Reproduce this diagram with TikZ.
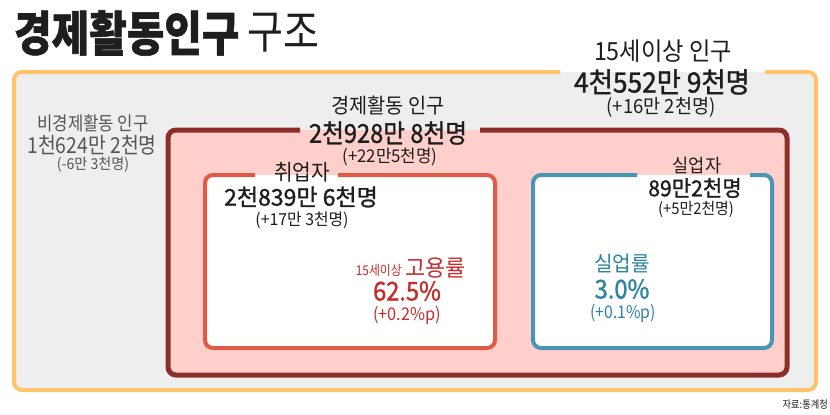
\documentclass[tikz,border=0pt]{standalone}
\usepackage{fontspec}
\setmainfont{Noto Sans CJK KR}
\newfontfamily\krmed{Noto Sans CJK KR}[FakeBold=1.2]
\usepackage{graphicx}
\definecolor{orangeL}{HTML}{FFC46B}
\definecolor{bgGray}{HTML}{EEEEEE}
\definecolor{darkRed}{HTML}{8C2F2A}
\definecolor{pinkF}{HTML}{FFCFCB}
\definecolor{redB}{HTML}{E05A48}
\definecolor{blueB}{HTML}{4A94B4}
\definecolor{redT}{HTML}{C62C2A}
\definecolor{blueT}{HTML}{2A84A0}
\definecolor{grayT}{HTML}{555555}
\definecolor{blackT}{HTML}{1E1E1E}
\newcommand{\cnd}[2][0.88]{\scalebox{#1}[1]{#2}}
\newcommand{\fs}[1]{\fontsize{#1}{#1}\selectfont}
\tikzset{
  txt/.style={inner sep=0pt, anchor=center, text=blackT},
  frame/.style={line width=#1, rounded corners=8pt},
}
\begin{document}
\begin{tikzpicture}[x=1pt,y=-1pt]
\useasboundingbox (0,0) rectangle (830,415);
\fill[white] (0,0) rectangle (830,415);
% outer: 15세이상 인구
\fill[bgGray, rounded corners=8pt] (14,72) rectangle (816,390);
\draw[orangeL, frame=4pt] (765,72) -- (816,72) -- (816,390) -- (14,390) -- (14,72) -- (560,72);
% 경제활동인구
\fill[pinkF, rounded corners=8pt] (168,130) rectangle (787,375);
\draw[darkRed, frame=5pt] (480,130) -- (787,130) -- (787,375) -- (168,375) -- (168,130) -- (300,130);
% 취업자
\fill[white, rounded corners=8pt] (205,175) rectangle (495,348);
\draw[redB, frame=4pt] (338,175) -- (495,175) -- (495,348) -- (205,348) -- (205,175) -- (255,175);
% 실업자
\fill[white, rounded corners=8pt] (533,175) rectangle (772,348);
\draw[blueB, frame=4pt] (750,175) -- (772,175) -- (772,348) -- (533,348) -- (533,175) -- (637,175);

% title
\node[txt, anchor=west] (title) at (14,33) {\fs{48}\krmed\bfseries\cnd[0.85]{경제활동인구}};
\node[txt, anchor=west] (title2) at (247,33) {\fs{46}\cnd[0.85]{구조}};

% 15세이상 인구
\node[txt] (popA) at (663,51) {\fs{25}\cnd[0.93]{15세이상 인구}};
\node[txt] (popB) at (662,82) {\fs{28}\krmed\cnd[0.94]{4천552만 9천명}};
\node[txt] (popC) at (661,107) {\fs{19.5}\cnd[0.95]{(+16만 2천명)}};

% 비경제활동 인구
\node[txt, text=grayT] (nonA) at (93,123) {\fs{19}\cnd{비경제활동 인구}};
\node[txt, text=grayT] (nonB) at (92,145) {\fs{22}\cnd{1천624만 2천명}};
\node[txt, text=grayT] (nonC) at (93,165) {\fs{15}\cnd[0.94]{(-6만 3천명)}};

% 경제활동 인구
\node[txt] (ecoA) at (388,106) {\fs{21}\cnd[0.94]{경제활동 인구}};
\node[txt] (ecoB) at (388,133) {\fs{26}\krmed\cnd[0.91]{2천928만 8천명}};
\node[txt] (ecoC) at (390,157) {\fs{17.5}\cnd[0.96]{(+22만5천명)}};

% 취업자
\node[txt] (empA) at (302,172) {\fs{22}\cnd[0.92]{취업자}};
\node[txt] (empB) at (301,197) {\fs{23}\krmed{2천839만 6천명}};
\node[txt] (empC) at (302,220) {\fs{16.5}\cnd[0.96]{(+17만 3천명)}};

% 고용률
\node[txt, text=redT, anchor=east] (rateS) at (402,270) {\fs{13.5}\cnd{15세이상}};
\node[txt, text=redT, anchor=west] (rateA) at (405,268) {\fs{23}\cnd[0.95]{고용률}};
\node[txt, text=redT] (rateB) at (407,291) {\fs{26}\krmed\cnd[0.91]{62.5\%}};
\node[txt, text=redT] (rateC) at (407,315) {\fs{17.5}\cnd[0.93]{(+0.2\%p)}};

% 실업자
\node[txt] (unA) at (697,166) {\fs{18.5}\cnd[0.95]{실업자}};
\node[txt] (unB) at (695,188) {\fs{22}\krmed\cnd[0.96]{89만2천명}};
\node[txt] (unC) at (696,209) {\fs{16}\cnd[0.93]{(+5만2천명)}};

% 실업률
\node[txt, text=blueT] (urA) at (622,264) {\fs{21}\cnd[0.96]{실업률}};
\node[txt, text=blueT] (urB) at (622,289) {\fs{26}\krmed\cnd[0.91]{3.0\%}};
\node[txt, text=blueT] (urC) at (623,313) {\fs{17.5}\cnd[0.9]{(+0.1\%p)}};

% source
\node[txt, anchor=east] (src) at (828,405) {\fs{10.5}\cnd{자료:통계청}};
\end{tikzpicture}
\end{document}
